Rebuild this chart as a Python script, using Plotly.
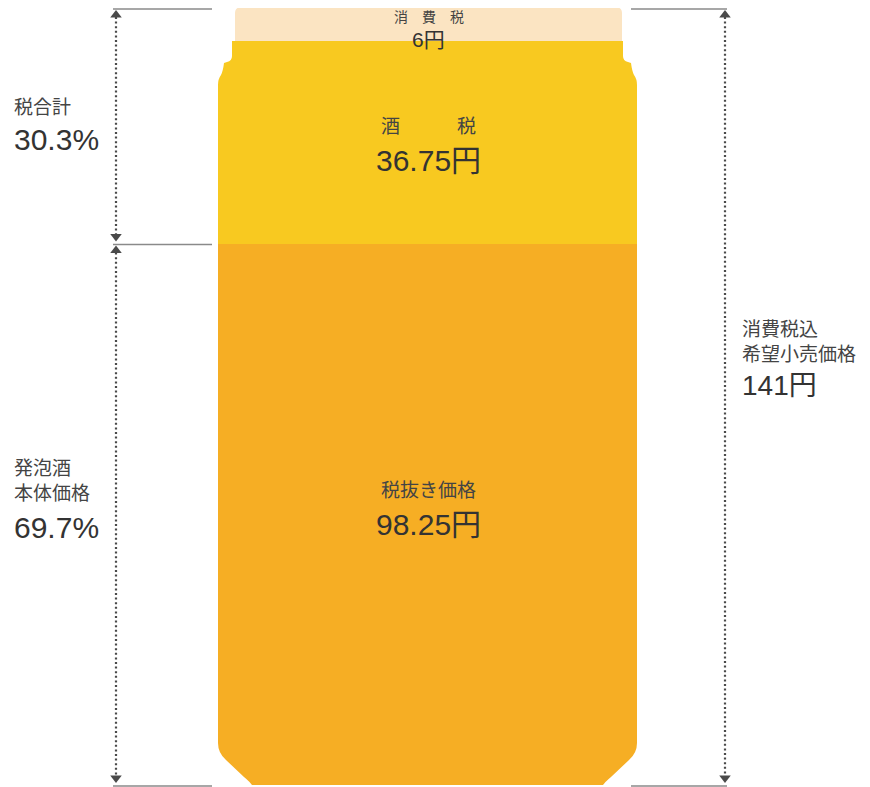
import plotly.graph_objects as go

# Price breakdown of one can of happoshu (yen)
segments = ["税抜き価格", "酒税", "消費税"]
segment_labels = ["税抜き価格", "酒\u3000\u3000\u3000税", "消\u3000費\u3000税"]
values = [98.25, 36.75, 6]
colors = ["#F6AE24", "#F8C920", "#FBE4C2"]

total = sum(values)                      # 141
tax_total = values[1] + values[2]        # 42.75
bases = [0, values[0], values[0] + values[1]]

W, H = 870, 787
S = 777 / total                          # pixels per yen on the vertical axis
px = lambda d: d / S                     # pixel distance -> axis units

CX = 427.5                               # can centre (x axis is in pixels)
BODY_W = 419
TOP_W = 387
TEXT = "#333333"
TEXT_JP = "#444444"
NUM_FONT = "Liberation Sans, Arial, Noto Sans CJK JP"
JP_FONT = "Noto Sans CJK JP"
GRAY = "#8a8a8a"
ARROW = "#4a4a4a"

fig = go.Figure()

# can body: stacked bars drawn from the values
for i, (name, v, b, c) in enumerate(zip(segments, values, bases, colors)):
    fig.add_trace(go.Bar(
        x=[CX + (1 if i == 2 else 0)], y=[v], base=[b], name=name,
        width=[TOP_W if i == 2 else BODY_W],
        marker=dict(color=c, line=dict(width=0)),
        hoverinfo="skip", showlegend=False,
    ))

left = CX - BODY_W / 2
shapes = []

def mirror(path_pts, cx=CX):
    return [(2 * cx - x, y) for x, y in path_pts]

def to_path(cmds):
    out = []
    for cmd in cmds:
        op, pts = cmd[0], cmd[1:]
        out.append(op + " " + " ".join(f"{x:.2f},{y:.4f}" for x, y in pts))
    return " ".join(out) + " Z"

# bottom chamfer of the can
y0 = 0
bl = [("M", (left - 3, y0 - px(3))), ("L", (left - 3, y0 + px(42))),
      ("L", (left, y0 + px(42))), ("Q", (left, y0 + px(32)), (left + 8, y0 + px(25))),
      ("L", (left + 26, y0 + px(8))), ("Q", (left + 32, y0 + px(3)), (left + 34, y0)),
      ("L", (left + 34, y0 - px(3)))]
br = [(c[0], *mirror(c[1:])) for c in bl]

# neck ridges at the top of the body
yT = bases[2]
nl = [("M", (left - 3, yT + px(1))), ("L", (left + 14, yT + px(1))),
      ("L", (left + 14, yT - px(15))), ("Q", (left + 14, yT - px(20)), (left + 9, yT - px(21))),
      ("L", (left + 6, yT - px(22))), ("Q", (left + 5, yT - px(30)), (left + 3, yT - px(34))),
      ("Q", (left, yT - px(38)), (left, yT - px(44))), ("L", (left - 3, yT - px(44)))]
nr = [(c[0], *mirror(c[1:])) for c in nl]

# rounded lid corners
yTop = total
tl_x = CX + 1 - TOP_W / 2
lid_l = [("M", (tl_x - 1, yTop + px(1))), ("L", (tl_x + 5, yTop + px(1))),
         ("Q", (tl_x, yTop), (tl_x, yTop - px(5))), ("L", (tl_x - 1, yTop - px(5)))]
lid_r = [(c[0], *mirror(c[1:], CX + 1)) for c in lid_l]

for p in (bl, br, nl, nr, lid_l, lid_r):
    shapes.append(dict(type="path", xref="x", yref="y", path=to_path(p),
                       fillcolor="white", line=dict(width=0), layer="above"))

# boundary rules beside the can
LX0, LX1 = 113, 212
RX0, RX1 = 631, 727
for yv, xs in [(total, [(LX0, LX1), (RX0, RX1)]),
               (values[0], [(LX0, LX1)]),
               (0, [(LX0, LX1), (RX0, RX1)])]:
    for a, b in xs:
        shapes.append(dict(type="line", xref="x", yref="y", x0=a, x1=b,
                           y0=yv - px(1), y1=yv - px(1),
                           line=dict(color=GRAY, width=1.5)))

# dotted dimension arrows
def dim_arrow(x, y_hi, y_lo):
    fig.add_trace(go.Scatter(
        x=[x, x], y=[y_hi - px(9), y_lo + px(9)], mode="lines",
        line=dict(color=ARROW, width=2.2, dash="2px,2.6px"),
        hoverinfo="skip", showlegend=False))
    fig.add_trace(go.Scatter(
        x=[x, x], y=[y_hi - px(7), y_lo + px(7)], mode="markers",
        marker=dict(symbol=["triangle-up", "triangle-down"], size=10,
                    color=ARROW, line=dict(width=0)),
        hoverinfo="skip", showlegend=False))

dim_arrow(116, total, values[0])
dim_arrow(116, values[0], 0)
dim_arrow(725, total, 0)

annotations = []

def label(x, y, text, size, font=JP_FONT, color=TEXT_JP, xanchor="center",
          yref="paper", yshift=0):
    annotations.append(dict(x=x, y=y, xref="x", yref=yref, text=text, showarrow=False,
                            xanchor=xanchor, yanchor="middle", yshift=yshift,
                            font=dict(family=font, size=size, color=color)))

def py(p):
    return 1 - p / H

# labels inside the can, centred on each segment
mid = [b + v / 2 for b, v in zip(bases, values)]
label(CX + 1, mid[0], segment_labels[0], 19, yref="y", yshift=26)
label(CX + 1, mid[0], f"{values[0]:g}円", 30, NUM_FONT, TEXT, yref="y", yshift=-10)
label(CX + 1, mid[1], segment_labels[1], 19, yref="y", yshift=18)
label(CX + 1, mid[1], f"{values[1]:g}円", 30, NUM_FONT, TEXT, yref="y", yshift=-18)
label(CX + 1, total, segment_labels[2], 14, yref="y", yshift=-8)
label(CX + 1, total, f"{values[2]:g}円", 21, NUM_FONT, TEXT, yref="y", yshift=-31)

# left-hand shares
label(12, py(106), "税合計", 19, xanchor="left")
label(12, py(140), f"{tax_total / total * 100:.1f}%", 30, NUM_FONT, TEXT, xanchor="left")
label(12, py(466), "発泡酒", 19, xanchor="left")
label(12, py(491), "本体価格", 19, xanchor="left")
label(12, py(527), f"{values[0] / total * 100:.1f}%", 30, NUM_FONT, TEXT, xanchor="left")

# right-hand total
label(740, py(327), "消費税込", 19, xanchor="left")
label(740, py(352), "希望小売価格", 19, xanchor="left")
label(740, py(385), f"{total:g}円", 28, NUM_FONT, TEXT, xanchor="left")

fig.update_layout(
    width=W, height=H, margin=dict(l=0, r=0, t=0, b=0),
    paper_bgcolor="white", plot_bgcolor="white",
    barmode="overlay", bargap=0, showlegend=False,
    xaxis=dict(range=[0, W], visible=False, fixedrange=True),
    yaxis=dict(range=[-px(2), px(785)], visible=False, fixedrange=True),
    shapes=shapes, annotations=annotations,
)

fig.write_html("out.html")
